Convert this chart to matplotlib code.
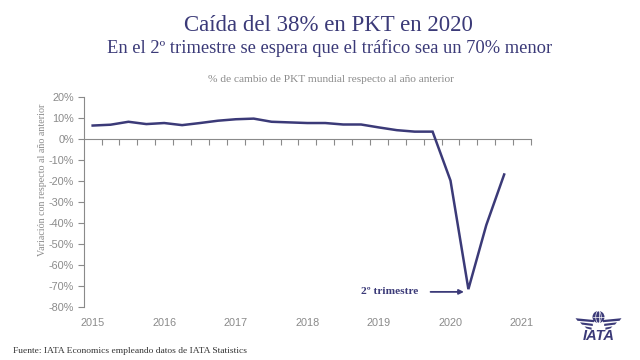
import matplotlib
matplotlib.use("Agg")
import matplotlib.pyplot as plt
from matplotlib.patches import Circle, Polygon
import numpy as np

# Data: quarterly % change of global RPK vs previous year
quarters = ["2015Q1", "2015Q2", "2015Q3", "2015Q4",
            "2016Q1", "2016Q2", "2016Q3", "2016Q4",
            "2017Q1", "2017Q2", "2017Q3", "2017Q4",
            "2018Q1", "2018Q2", "2018Q3", "2018Q4",
            "2019Q1", "2019Q2", "2019Q3", "2019Q4",
            "2020Q1", "2020Q2", "2020Q3", "2020Q4"]
rpk_change = [6.4, 6.8, 8.2, 7.1,
              7.6, 6.6, 7.6, 8.7,
              9.4, 9.7, 8.2, 7.9,
              7.6, 7.6, 6.9, 6.9,
              5.5, 4.2, 3.5, 3.5,
              -19.8, -71.5, -41.0, -16.9]
year_labels = ["2015", "2016", "2017", "2018", "2019", "2020", "2021"]
n_categories = 25  # axis runs through 2021Q1
highlight_index = 21

NAVY = "#3b3a78"
GRAY = "#8a8a8a"

fig = plt.figure(figsize=(6.4, 3.6), dpi=100)
ax = fig.add_axes([0.1308, 0.1472, 0.8297 - 0.1308, 0.7306 - 0.1472])

x = np.arange(len(rpk_change))
ax.plot(x, rpk_change, color=NAVY, lw=1.8, solid_joinstyle="miter")

ax.set_xlim(-0.5, n_categories - 0.5)
ax.set_ylim(-80, 20)
ax.set_yticks(np.arange(-80, 21, 10))
ax.set_yticklabels([f"{v}%" for v in range(-80, 21, 10)],
                   fontfamily="Liberation Sans", fontsize=7.8, color=GRAY)
ax.tick_params(axis="y", direction="out", length=4, color=GRAY, width=0.8, pad=3)

# year labels at bottom
ax.set_xticks(np.arange(0, n_categories, 4))
ax.set_xticklabels(year_labels, fontfamily="Liberation Sans", fontsize=7.8, color=GRAY)
ax.tick_params(axis="x", length=0, pad=8)

for s in ["top", "right", "bottom"]:
    ax.spines[s].set_visible(False)
ax.spines["left"].set_color(GRAY)
ax.spines["left"].set_linewidth(0.8)

# zero axis with category tick marks
zero_frac = (0 - (-80)) / (20 - (-80))
sec = ax.secondary_xaxis(zero_frac)
sec.set_alignment("bottom")
sec.set_xticks(np.arange(0.5, n_categories - 0.4, 1.0))
sec.set_xticklabels([])
sec.tick_params(axis="x", direction="out", length=4, color=GRAY, width=0.8)
sec.spines["bottom"].set_color(GRAY)
sec.spines["bottom"].set_linewidth(0.8)

ax.set_ylabel("Variación con respecto al año anterior", fontfamily="Liberation Serif",
              fontsize=7.2, color=GRAY)
ax.yaxis.set_label_coords(-0.083, 0.605)

# annotation
ax.annotate("2º trimestre",
            xy=(highlight_index - 0.25, rpk_change[highlight_index] - 1.3),
            xytext=(-33, 0), textcoords="offset points",
            ha="right", va="center", fontfamily="Liberation Serif", fontweight="bold",
            fontsize=8.2, color=NAVY,
            arrowprops=dict(arrowstyle="-|>", color=NAVY, lw=1.3, shrinkA=7, shrinkB=0,
                            mutation_scale=7))

# titles
fig.text(0.513, 0.93, "Caída del 38% en PKT en 2020", ha="center", va="center",
         fontfamily="Liberation Serif", fontsize=16.5, color=NAVY)
fig.text(0.515, 0.866, "En el 2º trimestre se espera que el tráfico sea un 70% menor",
         ha="center", va="center", fontfamily="Liberation Serif", fontsize=13.3, color=NAVY)
fig.text(0.517, 0.778, "% de cambio de PKT mundial respecto al año anterior",
         ha="center", va="center", fontfamily="Liberation Serif", fontsize=8.2, color=GRAY)
fig.text(0.02, 0.025, "Fuente: IATA Economics empleando datos de IATA Statistics",
         ha="left", va="center", fontfamily="Liberation Serif", fontsize=6.8, color="#333333")

# IATA logo (simplified), drawn in a small axes whose units are pixels
lax = fig.add_axes([573 / 640, 16 / 360, 52 / 640, 36 / 360])
lax.set_xlim(0, 52)
lax.set_ylim(0, 36)
lax.axis("off")
gx, gy, gr = 25.5, 27.0, 6.0
lax.add_patch(Circle((gx, gy), gr, facecolor=NAVY, edgecolor="none"))
lax.plot([gx, gx], [gy - gr, gy + gr], color="white", lw=0.5)
lax.plot([gx - gr, gx + gr], [gy, gy], color="white", lw=0.5)
lax.add_patch(Polygon([(gx - 2.6, gy - gr + 0.5), (gx + 2.6, gy - gr + 0.5),
                       (gx + 2.6, gy + gr - 0.5), (gx - 2.6, gy + gr - 0.5)],
                      closed=True, facecolor="none", edgecolor="none"))
from matplotlib.patches import Ellipse
lax.add_patch(Ellipse((gx, gy), 5.5, 2 * gr, facecolor="none", edgecolor="white", lw=0.5))
for side in (-1, 1):
    for k, y0 in enumerate((24.0, 20.2, 16.4)):
        xin = gx + side * (4.5 + k * 1.2)
        xout = gx + side * (23.0 - k * 4.5)
        pts = [(xin, y0), (xout, y0 + 1.8 - k * 0.3), (xout - side * 2.0, y0 - 0.8),
               (xin, y0 - 2.2)]
        lax.add_patch(Polygon(pts, closed=True, facecolor=NAVY, edgecolor="none"))
lax.text(gx + 0.5, 8.0, "IATA", ha="center", va="center", fontfamily="Liberation Sans",
         fontweight="bold", fontstyle="italic", fontsize=10.5, color=NAVY)

fig.savefig("out.png", dpi=100)
